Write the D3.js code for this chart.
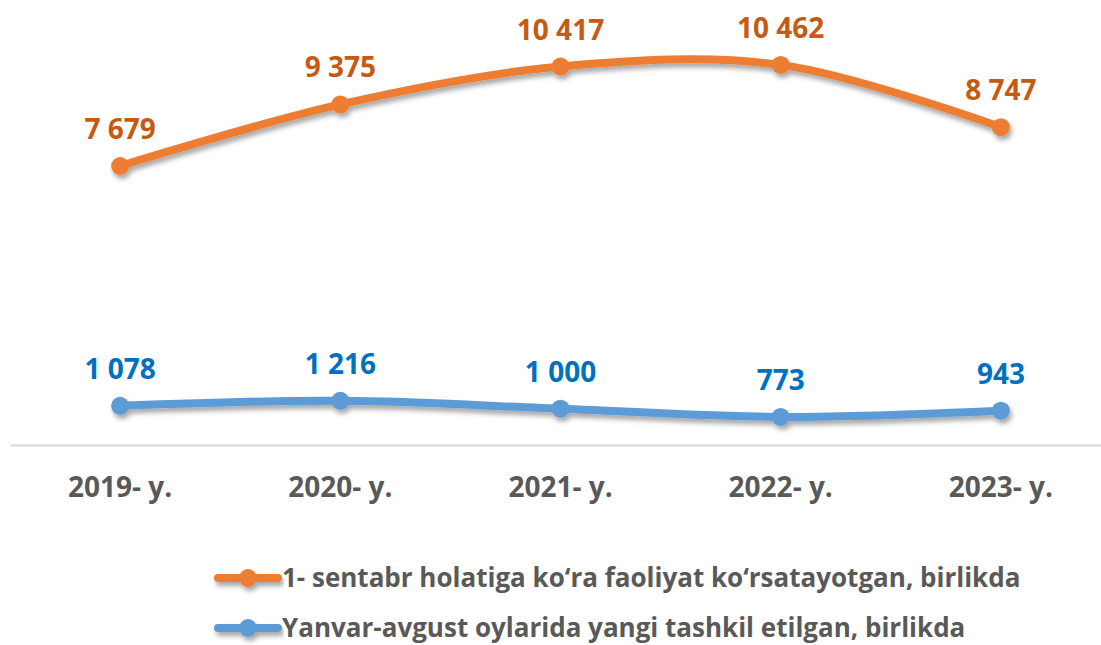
<!DOCTYPE html>
<html>
<head>
<meta charset="utf-8">
<script src="https://cdn.jsdelivr.net/npm/d3@7"></script>
<style>
  body { margin: 0; background: #fff; }
  svg text { font-family: "Open Sans", Lato, sans-serif; font-weight: bold; }
</style>
</head>
<body>
<svg width="1101" height="645"></svg>
<script>
const years = ['2019- y.', '2020- y.', '2021- y.', '2022- y.', '2023- y.'];
const activeUnits = [7679, 9375, 10417, 10462, 8747];
const newUnits = [1078, 1216, 1000, 773, 943];
const seriesNames = [
  '1- sentabr holatiga ko\u2018ra faoliyat ko\u2018rsatayotgan, birlikda',
  'Yanvar-avgust oylarida yangi tashkil etilgan, birlikda'
];

const series = [
  { name: seriesNames[0], values: activeUnits, line: '#ED7D31', label: '#C55A11' },
  { name: seriesNames[1], values: newUnits, line: '#5B9BD5', label: '#0070C0' }
];

let svg = d3.select('svg');

// shadow like the office chart
const defs = svg.append('defs');
const f = defs.append('filter').attr('id', 'shadow')
  .attr('x', '-10%').attr('y', '-50%').attr('width', '120%').attr('height', '200%');
f.append('feDropShadow').attr('dx', 2).attr('dy', 4).attr('stdDeviation', 2.5)
  .attr('flood-color', '#000').attr('flood-opacity', 0.35);

const x = d3.scaleBand().domain(years).range([10, 1111]);
const y = d3.scaleLinear().domain([0, 12000]).range([445, 9]);

// axis
const xAxis = svg.append('g').attr('transform', 'translate(0,445)')
  .call(d3.axisBottom(x).tickSize(0).tickPadding(32));
xAxis.select('.domain').attr('stroke', '#d9d9d9').attr('stroke-width', 2);
xAxis.selectAll('text').attr('font-size', 28).attr('fill', '#595959')
  .attr('font-family', '"Open Sans", Lato, sans-serif').attr('font-weight', 'bold');

const fmt = v => d3.format(',')(v).replace(',', ' ');

const line = d3.line()
  .x((d, i) => x(years[i]) + x.bandwidth() / 2)
  .y(d => y(d))
  .curve(d3.curveCatmullRom.alpha(0.5));

series.forEach(s => {
  const g = svg.append('g').attr('filter', 'url(#shadow)');
  g.append('path').datum(s.values)
    .attr('d', line)
    .attr('fill', 'none')
    .attr('stroke', s.line)
    .attr('stroke-width', 8)
    .attr('stroke-linecap', 'round');
  g.selectAll('circle').data(s.values).enter().append('circle')
    .attr('cx', (d, i) => x(years[i]) + x.bandwidth() / 2)
    .attr('cy', d => y(d))
    .attr('r', 9)
    .attr('fill', s.line);

  svg.append('g').selectAll('text').data(s.values).enter().append('text')
    .attr('x', (d, i) => x(years[i]) + x.bandwidth() / 2)
    .attr('y', d => y(d) - 27)
    .attr('text-anchor', 'middle')
    .attr('font-size', 28)
    .attr('fill', s.label)
    .text(d => fmt(d));
});

// legend
const legend = svg.append('g');
series.forEach((s, i) => {
  const ly = 578 + i * 50;
  const lg = legend.append('g').attr('filter', 'url(#shadow)');
  lg.append('line').attr('x1', 218).attr('x2', 278).attr('y1', ly).attr('y2', ly)
    .attr('stroke', s.line).attr('stroke-width', 8).attr('stroke-linecap', 'round');
  lg.append('circle').attr('cx', 248).attr('cy', ly).attr('r', 9).attr('fill', s.line);
  legend.append('text').attr('x', 282).attr('y', ly + 9)
    .attr('font-size', 26).attr('fill', '#595959').text(s.name);
});
</script>
</body>
</html>
